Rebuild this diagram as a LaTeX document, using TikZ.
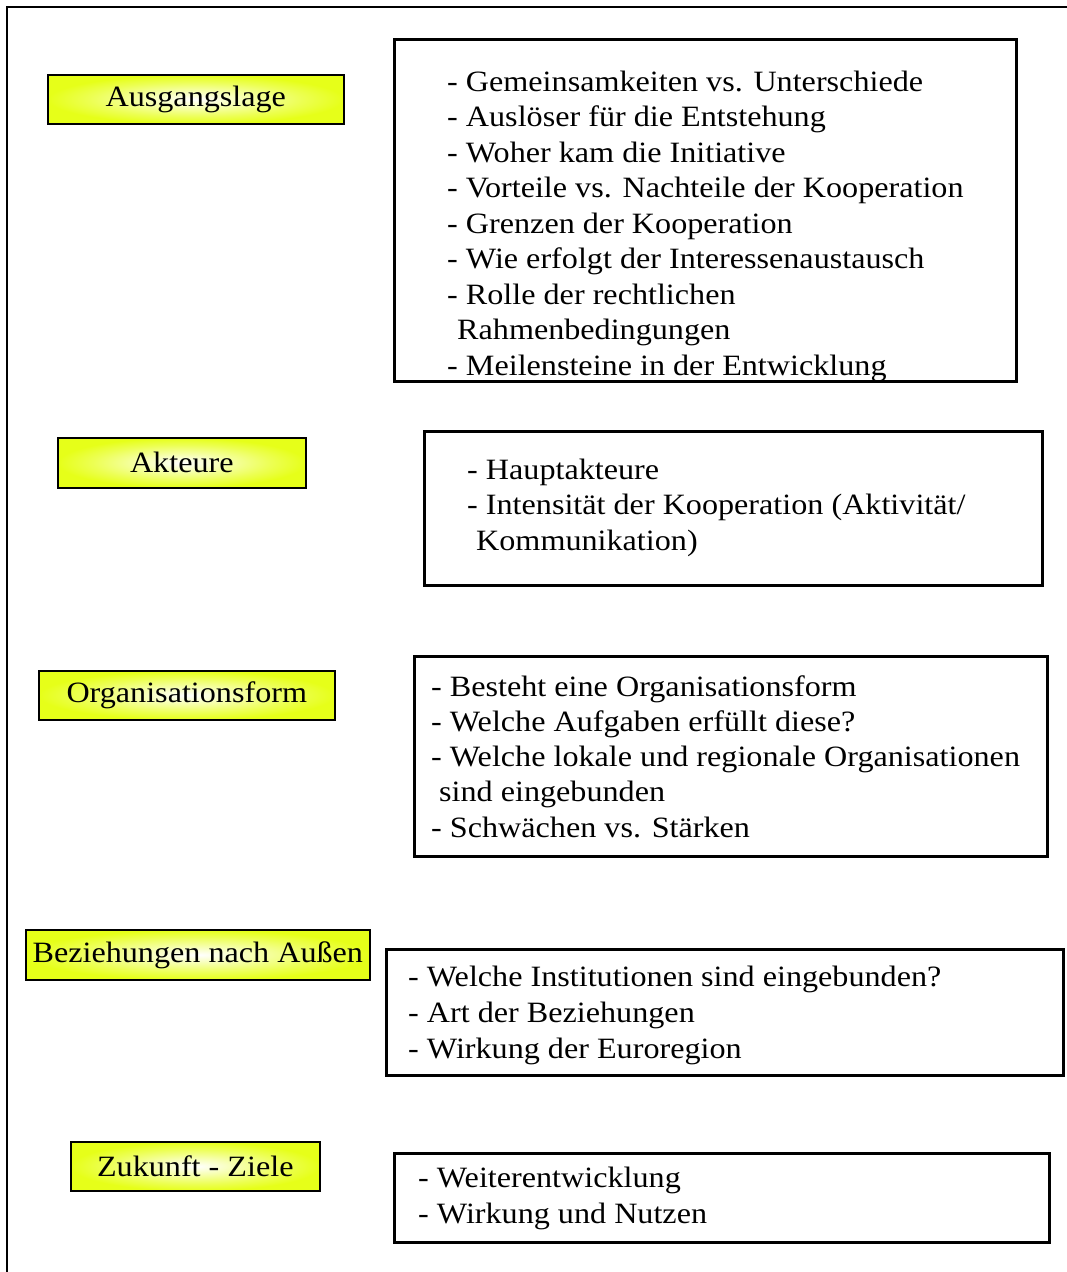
\documentclass[tikz,border=0pt]{standalone}
\usepackage{fontspec}
\setmainfont[FakeStretch=1.09]{Liberation Serif}
\definecolor{labelyellow}{RGB}{230,255,25}
% soft white glow in the middle of the yellow label boxes
\pgfdeclareradialshading{labelglow}{\pgfpoint{0bp}{0bp}}{%
  color(0bp)=(white); color(6bp)=(white!75!labelyellow);
  color(18bp)=(white!25!labelyellow); color(25bp)=(labelyellow);
  color(50bp)=(labelyellow)}
\begin{document}
\begin{tikzpicture}[x=1pt,y=-1pt,
  every node/.style={inner sep=0pt, font=\fontsize{29.5}{35}\selectfont},
  topic/.style={draw=black, line width=1.6pt, rectangle, anchor=north west,
    shading=labelglow},
  itembox/.style={draw=black, line width=3.4pt, rectangle, anchor=north west},
  item/.style={anchor=base west}]
\useasboundingbox (0,0) rectangle (1067,1272);
% outer frame (open to the right and bottom)
\draw[line width=2pt] (7,1272) -- (7,7) -- (1067,7);

% --- Ausgangslage ---
\node[topic, minimum width=296pt, minimum height=49pt] (t1) at (47,74) {Ausgangslage};
\node[itembox, minimum width=622pt, minimum height=342pt] (b1) at (393,38) {};
\node[item] (b1a) at (447,91)    {- Gemeinsamkeiten vs. Unterschiede};
\node[item] (b1b) at (447,126.5) {- Auslöser für die Entstehung};
\node[item] (b1c) at (447,162)   {- Woher kam die Initiative};
\node[item] (b1d) at (447,197.5) {- Vorteile vs. Nachteile der Kooperation};
\node[item] (b1e) at (447,233)   {- Grenzen der Kooperation};
\node[item] (b1f) at (447,268.5) {- Wie erfolgt der Interessenaustausch};
\node[item] (b1g) at (447,304)   {- Rolle der rechtlichen};
\node[item] (b1h) at (457,339.5) {Rahmenbedingungen};
\node[item] (b1i) at (447,375)   {- Meilensteine in der Entwicklung};

% --- Akteure ---
\node[topic, minimum width=248pt, minimum height=50pt] (t2) at (57,437) {Akteure};
\node[itembox, minimum width=618pt, minimum height=154pt] (b2) at (423,430) {};
\node[item] (b2a) at (467,479) {- Hauptakteure};
\node[item] (b2b) at (467,514) {- Intensität der Kooperation (Aktivität/};
\node[item] (b2c) at (476,550) {Kommunikation)};

% --- Organisationsform ---
\node[topic, minimum width=296pt, minimum height=49pt] (t3) at (38,670) {Organisationsform};
\node[itembox, minimum width=633pt, minimum height=200pt] (b3) at (413,655) {};
\node[item] (b3a) at (431,696) {- Besteht eine Organisationsform};
\node[item] (b3b) at (431,731) {- Welche Aufgaben erfüllt diese?};
\node[item] (b3c) at (431,766) {- Welche lokale und regionale Organisationen};
\node[item] (b3d) at (439,801) {sind eingebunden};
\node[item] (b3e) at (431,837) {- Schwächen vs. Stärken};

% --- Beziehungen nach Außen ---
\node[topic, minimum width=344pt, minimum height=50pt] (t4) at (25,929) {Beziehungen nach Außen};
\node[itembox, minimum width=677pt, minimum height=126pt] (b4) at (385,948) {};
\node[item] (b4a) at (408,986)  {- Welche Institutionen sind eingebunden?};
\node[item] (b4b) at (408,1022) {- Art der Beziehungen};
\node[item] (b4c) at (408,1058) {- Wirkung der Euroregion};

% --- Zukunft - Ziele ---
\node[topic, minimum width=249pt, minimum height=49pt] (t5) at (70,1141) {Zukunft - Ziele};
\node[itembox, minimum width=655pt, minimum height=89pt] (b5) at (393,1152) {};
\node[item] (b5a) at (418,1187) {- Weiterentwicklung};
\node[item] (b5b) at (418,1223) {- Wirkung und Nutzen};
\end{tikzpicture}
\end{document}
